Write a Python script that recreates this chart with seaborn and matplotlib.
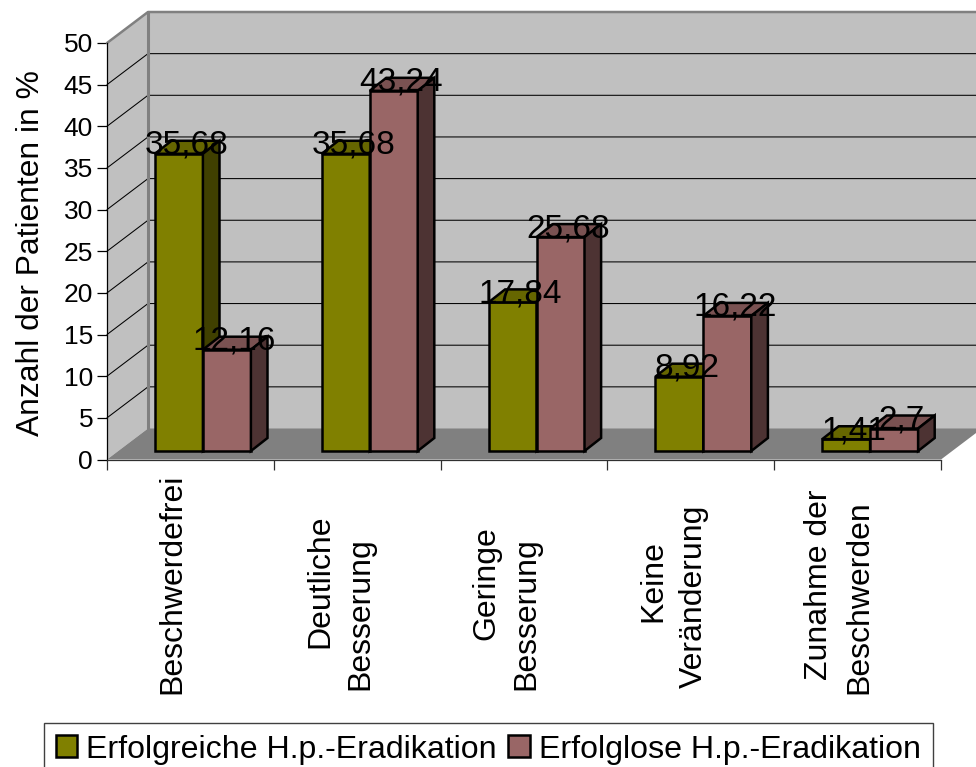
"""Excel style pseudo 3D bar chart: Beschwerden nach H.p.-Eradikation."""

import matplotlib

matplotlib.use("Agg")
import matplotlib.colors as mcolors
import matplotlib.pyplot as plt
import pandas as pd
import seaborn as sns
from matplotlib.patches import Polygon

CATEGORIES = [
    "Beschwerdefrei",
    "Deutliche Besserung",
    "Geringe Besserung",
    "Keine Veränderung",
    "Zunahme der Beschwerden",
]
SERIES = ["Erfolgreiche H.p.-Eradikation", "Erfolglose H.p.-Eradikation"]
ERFOLGREICH = [35.68, 35.68, 17.84, 8.92, 1.41]
ERFOLGLOS = [12.16, 43.24, 25.68, 16.22, 2.7]
Y_TICKS = [0, 5, 10, 15, 20, 25, 30, 35, 40, 45, 50]

# rotated label lines: text, px offset from category centre, px below the axis
LABEL_LINES = [
    [("Beschwerdefrei", -10, 235)],
    [("Deutliche", -29, 189), ("Besserung", 11, 231)],
    [("Geringe", -30, 180), ("Besserung", 10, 231)],
    [("Keine", -29, 163), ("Veränderung", 11, 229)],
    [("Zunahme der", -31, 221), ("Beschwerden", 10, 234)],
]

COLORS = ["#808000", "#996666"]
W, H = 976, 767
LEFT, RIGHT, TOP, BOTTOM = 107, 941, 43, 459.5
PX_X = (RIGHT - LEFT) / len(CATEGORIES)
PX_Y = (BOTTOM - TOP) / 50


def shade(color, factor):
    return tuple(c * factor for c in mcolors.to_rgb(color))


def add_poly(ax, points, color, z, edge="none", lw=0.0):
    ax.add_patch(Polygon(points, closed=True, facecolor=color, edgecolor=edge,
                         linewidth=lw, zorder=z, clip_on=False, joinstyle="miter"))


def draw_room(ax):
    x0, x1 = -0.5, len(CATEGORIES) - 0.5
    dx, dy = 41 / PX_X, 31 / PX_Y
    add_poly(ax, [(x0, 0), (x0, 50), (x0 + dx, 50 + dy), (x0 + dx, dy)], "#C0C0C0", 0.5)
    add_poly(ax, [(x0 + dx, dy), (x0 + dx, 50 + dy), (x1 + dx, 50 + dy), (x1 + dx, dy)], "#C0C0C0", 0.5)
    add_poly(ax, [(x0, 0), (x1, 0), (x1 + dx, dy), (x0 + dx, dy)], "#808080", 0.6)
    for tick in Y_TICKS[1:-1]:
        ax.plot([x0, x0 + dx, x1 + dx], [tick, tick + dy, tick + dy], color="black",
                lw=0.75, zorder=0.7, clip_on=False)
    ax.plot([x0, x0 + dx, x1 + dx], [50, 50 + dy, 50 + dy], color="#808080", lw=1.8,
            zorder=0.8, clip_on=False)
    ax.plot([x0 + dx, x0 + dx], [dy, 50 + dy], color="#808080", lw=2.2, zorder=0.8, clip_on=False)


def draw_bars(ax, df):
    sns.barplot(data=df, x="kategorie", y="wert", hue="serie", order=CATEGORIES,
                hue_order=SERIES, palette=COLORS, saturation=1, width=96 / PX_X, gap=0,
                edgecolor="black", linewidth=1.8, ax=ax, zorder=3)
    shift_x, shift_y = 12.5 / PX_X, 8.5 / PX_Y
    ddx, ddy = 16.6 / PX_X, 13 / PX_Y
    for s, container in enumerate(ax.containers):
        for bar, value in zip(container, df[df["serie"] == SERIES[s]]["wert"]):
            bar.set_x(bar.get_x() + shift_x)
            bar.set_y(bar.get_y() + shift_y)
            bar.set_clip_on(False)
            bar.set_zorder(3 + s)
            x, y, w, h = bar.get_x(), bar.get_y(), bar.get_width(), bar.get_height()
            add_poly(ax, [(x, y + h), (x + w, y + h), (x + w + ddx, y + h + ddy), (x + ddx, y + h + ddy)],
                     shade(COLORS[s], 0.8), 3 + s, "black", 1.8)
            add_poly(ax, [(x + w, y), (x + w + ddx, y + ddy), (x + w + ddx, y + h + ddy), (x + w, y + h)],
                     shade(COLORS[s], 0.5), 3 + s, "black", 1.8)
            label = f"{value:g}".replace(".", ",")
            ax.text(x + w / 2 + 7.5 / PX_X, y + h, label, ha="center", va="baseline",
                    fontsize=24, color="black", zorder=20, clip_on=False)


def main():
    sns.set_theme(style="white", font="Liberation Sans")
    plt.rcParams["font.family"] = ["Liberation Sans", "DejaVu Sans"]

    df = pd.DataFrame({
        "kategorie": CATEGORIES * 2,
        "serie": [SERIES[0]] * 5 + [SERIES[1]] * 5,
        "wert": ERFOLGREICH + ERFOLGLOS,
    })

    fig = plt.figure(figsize=(W / 100, H / 100), dpi=100)
    ax = fig.add_axes([LEFT / W, 1 - BOTTOM / H, (RIGHT - LEFT) / W, (BOTTOM - TOP) / H])
    ax.patch.set_visible(False)

    draw_room(ax)
    draw_bars(ax, df)

    ax.set_xlim(-0.5, len(CATEGORIES) - 0.5)
    ax.set_ylim(0, 50)
    ax.set_yticks(Y_TICKS)
    ax.set_xticks([i - 0.5 for i in range(len(CATEGORIES) + 1)])
    ax.set_xticklabels([])
    ax.set_xlabel("")
    ax.set_ylabel("Anzahl der Patienten in %", fontsize=22.9, color="black", labelpad=12.5, y=0.495)
    ax.tick_params(axis="y", length=7, width=0.9, color="black", labelsize=19,
                   labelcolor="black", pad=3, left=True)
    ax.tick_params(axis="x", length=7.5, width=0.9, color="#303030", bottom=True)
    sns.despine(ax=ax)
    ax.spines["left"].set_color("black")
    ax.spines["left"].set_linewidth(0.9)
    ax.spines["bottom"].set_color("#303030")
    ax.spines["bottom"].set_linewidth(0.9)

    for i, lines in enumerate(LABEL_LINES):
        for text, off_x, below in lines:
            ax.annotate(text, xy=(i, 0), xycoords="data", xytext=(off_x * 0.72, -below * 0.72),
                        textcoords="offset points", rotation=90, rotation_mode="anchor",
                        ha="left", va="baseline", fontsize=23, color="black")

    handles, labels = ax.get_legend_handles_labels()
    ax.legend(handles, labels, loc="upper left", bbox_to_anchor=(44 / W, 1 - 723 / H),
              bbox_transform=fig.transFigure, ncol=2, fontsize=23.1, frameon=True,
              labelcolor="black", fancybox=False, framealpha=1, edgecolor="#404040",
              borderaxespad=0, borderpad=0.36, handlelength=0.68, handleheight=0.68,
              handletextpad=0.28, columnspacing=0.35)

    fig.savefig("out.png", dpi=100)
    plt.close(fig)


if __name__ == "__main__":
    main()
